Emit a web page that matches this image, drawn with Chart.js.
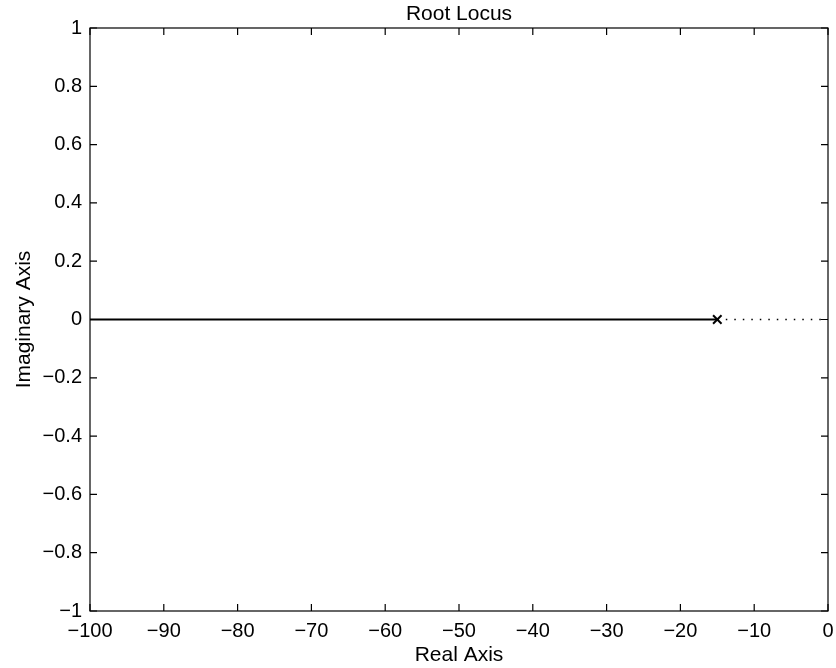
<!DOCTYPE html>
<html>
<head>
<meta charset="utf-8">
<script src="https://cdn.jsdelivr.net/npm/chart.js@4.4.1/dist/chart.umd.min.js"></script>
<style>
  html, body { margin: 0; padding: 0; background: #fff; }
  canvas { display: block; }
</style>
</head>
<body>
<canvas id="rl" width="836" height="668"></canvas>
<script>
// ── Data ────────────────────────────────────────────────────────────────────
const realTicks   = [-100, -90, -80, -70, -60, -50, -40, -30, -20, -10, 0];
const imagTicks   = [-1, -0.8, -0.6, -0.4, -0.2, 0, 0.2, 0.4, 0.6, 0.8, 1];
const locusReal   = [-100, -15];   // solid branch on the real axis
const locusImag   = [0, 0];
const dottedReal  = [-15, 0];      // dotted segment up to the origin
const dottedImag  = [0, 0];
const poleReal    = [-15];
const poleImag    = [0];

const FONT = "'Liberation Sans', Helvetica, Arial, sans-serif";
const pts = (xs, ys) => xs.map((x, i) => ({ x, y: ys[i] }));
const fmt = v => (v < 0 ? "\u2212" : "") + String(Math.abs(Math.round(v * 10) / 10));

// Box + inward ticks on all four sides, MATLAB style
const boxTicks = {
  id: "boxTicks",
  afterDraw(chart) {
    const { ctx, chartArea: a, scales: { x, y } } = chart;
    const len = 7;
    ctx.save();
    ctx.strokeStyle = "#000";
    ctx.lineWidth = 1.2;
    ctx.strokeRect(a.left, a.top, a.right - a.left, a.bottom - a.top);
    ctx.beginPath();
    realTicks.forEach(v => {
      const px = x.getPixelForValue(v);
      ctx.moveTo(px, a.bottom); ctx.lineTo(px, a.bottom - len);
      ctx.moveTo(px, a.top);    ctx.lineTo(px, a.top + len);
    });
    imagTicks.forEach(v => {
      const py = y.getPixelForValue(v);
      ctx.moveTo(a.left, py);  ctx.lineTo(a.left + len, py);
      ctx.moveTo(a.right, py); ctx.lineTo(a.right - len, py);
    });
    ctx.stroke();
    ctx.restore();
  }
};

new Chart(document.getElementById("rl").getContext("2d"), {
  type: "scatter",
  data: {
    datasets: [
      { data: pts(locusReal, locusImag), showLine: true, borderColor: "#000", borderWidth: 2.2, pointRadius: 0 },
      { data: pts(dottedReal, dottedImag), showLine: true, borderColor: "#000", borderWidth: 1.5, borderDash: [1.5, 7], pointRadius: 0 },
      { data: pts(poleReal, poleImag), pointStyle: "crossRot", pointRadius: 6, borderColor: "#000", borderWidth: 2, backgroundColor: "#000" }
    ]
  },
  options: {
    responsive: false, animation: false, devicePixelRatio: 1,
    layout: { padding: { left: 0, right: 1, top: 0, bottom: 0 } },
    plugins: {
      legend: { display: false },
      tooltip: { enabled: false },
      title: {
        display: true, text: "Root Locus", fullSize: false, color: "#000",
        font: { family: FONT, size: 21, weight: "normal" }, padding: { top: 2, bottom: 0.8 }
      }
    },
    scales: {
      x: {
        type: "linear", min: -100, max: 0,
        afterFit: s => { s.height = 57; s.paddingLeft = 0; s.paddingRight = 0; },
        afterBuildTicks: s => { s.ticks = realTicks.map(v => ({ value: v })); },
        grid: { display: false, drawTicks: false }, border: { display: false },
        ticks: { color: "#000", padding: 8, maxRotation: 0, autoSkip: false, font: { family: FONT, size: 20 }, callback: fmt },
        title: { display: true, text: "Real Axis", color: "#000", font: { family: FONT, size: 21 }, padding: { top: 0, bottom: 0 } }
      },
      y: {
        type: "linear", min: -1, max: 1,
        afterFit: s => { s.width = 90; s.paddingTop = 0; s.paddingBottom = 0; },
        afterBuildTicks: s => { s.ticks = imagTicks.map(v => ({ value: v })); },
        grid: { display: false, drawTicks: false }, border: { display: false },
        ticks: { color: "#000", padding: 8, autoSkip: false, font: { family: FONT, size: 20 }, callback: fmt },
        title: { display: true, text: "Imaginary Axis", color: "#000", font: { family: FONT, size: 21 }, padding: { top: 12, bottom: 0 } }
      }
    }
  },
  plugins: [boxTicks]
});
</script>
</body>
</html>
